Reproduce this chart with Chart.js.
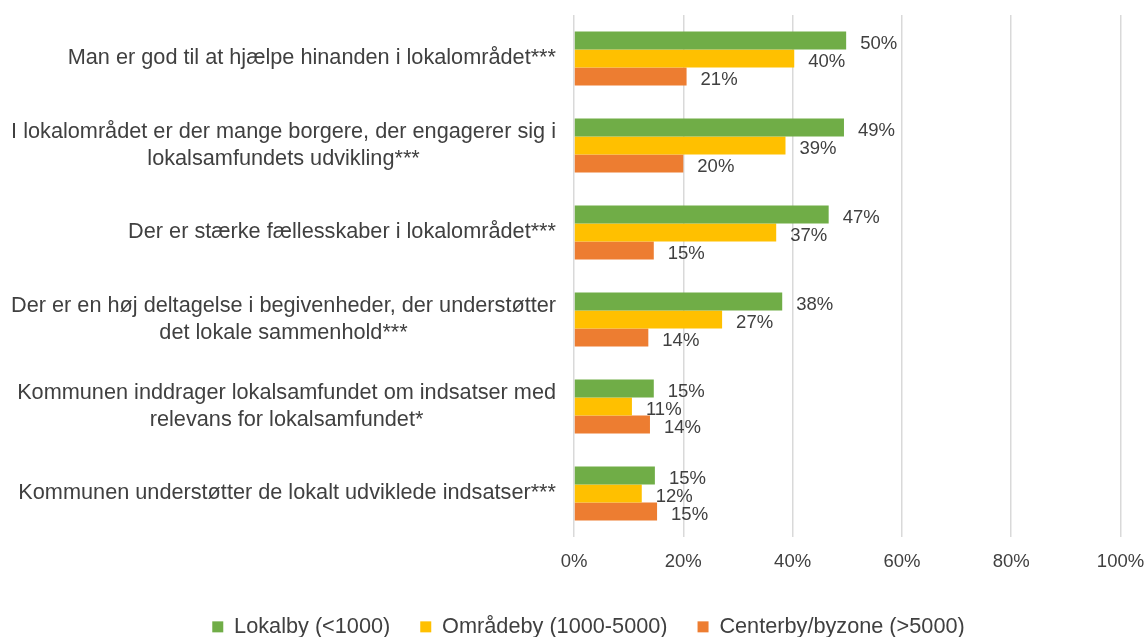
<!DOCTYPE html>
<html>
<head>
<meta charset="utf-8">
<script src="https://cdn.jsdelivr.net/npm/chart.js@4.4.1/dist/chart.umd.min.js"></script>
<style>
  html, body { margin: 0; padding: 0; background: #ffffff; }
  #wrap { width: 1146px; height: 637px; position: relative; }
</style>
</head>
<body>
<div id="wrap"><canvas id="c"></canvas></div>
<script>
const categories = [
  ["Man er god til at hjælpe hinanden i lokalområdet***"],
  ["I lokalområdet er der mange borgere, der engagerer sig i", "lokalsamfundets udvikling***"],
  ["Der er stærke fællesskaber i lokalområdet***"],
  ["Der er en høj deltagelse i begivenheder, der understøtter", "det lokale sammenhold***"],
  ["Kommunen inddrager lokalsamfundet om indsatser med", "relevans for lokalsamfundet*"],
  ["Kommunen understøtter de lokalt udviklede indsatser***"]
];
const seriesNames = ["Lokalby (<1000)", "Områdeby (1000-5000)", "Centerby/byzone (>5000)"];
const lokalby   = [49.8, 49.4, 46.6, 38.1, 14.6, 14.8];
const omraadeby = [40.3, 38.7, 37.0, 27.1, 10.6, 12.4];
const centerby  = [20.6, 20.0, 14.6, 13.6, 13.9, 15.2];
const xTicks = [0, 20, 40, 60, 80, 100];

const colors = ["#70AD47", "#FFC000", "#ED7D31"];
const textColor = "#404040";
const FONT = "'Liberation Sans', Arial, sans-serif";

const valueLabels = {
  id: 'valueLabels',
  afterDatasetsDraw(chart) {
    const ctx = chart.ctx;
    ctx.save();
    ctx.font = "18.5px " + FONT;
    ctx.fillStyle = textColor;
    ctx.textAlign = 'left';
    ctx.textBaseline = 'middle';
    chart.data.datasets.forEach((ds, di) => {
      const meta = chart.getDatasetMeta(di);
      meta.data.forEach((el, i) => {
        ctx.fillText(Math.round(ds.data[i]) + '%', el.x + 14, el.y + 3);
      });
    });
    ctx.restore();
  }
};

const categoryLabels = {
  id: 'categoryLabels',
  afterDraw(chart) {
    const ctx = chart.ctx;
    const y = chart.scales.y;
    const right = chart.chartArea.left - 18;
    const lh = 27;
    ctx.save();
    ctx.font = "21.7px " + FONT;
    ctx.fillStyle = textColor;
    ctx.textAlign = 'center';
    ctx.textBaseline = 'middle';
    chart.data.labels.forEach((lines, i) => {
      const py = y.getPixelForTick(i);
      let maxW = 0;
      lines.forEach(l => { maxW = Math.max(maxW, ctx.measureText(l).width); });
      const cx = right - maxW / 2;
      lines.forEach((l, j) => {
        ctx.fillText(l, cx, py + (j - (lines.length - 1) / 2) * lh);
      });
    });
    ctx.restore();
  }
};

new Chart(document.getElementById('c'), {
  type: 'bar',
  data: {
    labels: categories,
    datasets: [
      { label: seriesNames[0], data: lokalby, backgroundColor: colors[0], borderWidth: 0 },
      { label: seriesNames[1], data: omraadeby, backgroundColor: colors[1], borderWidth: 0 },
      { label: seriesNames[2], data: centerby, backgroundColor: colors[2], borderWidth: 0 }
    ]
  },
  options: {
    indexAxis: 'y',
    responsive: true,
    maintainAspectRatio: false,
    animation: false,
    datasets: { bar: { barPercentage: 1.0, categoryPercentage: 0.62 } },
    layout: { padding: { top: 15, right: 0, left: 31, bottom: 0 } },
    scales: {
      x: {
        min: 0, max: 100,
        afterBuildTicks(scale) { scale.ticks = xTicks.map(v => ({ value: v })); },
        ticks: {
          callback: v => v + '%',
          font: { family: FONT, size: 18.5 },
          color: textColor,
          padding: 14
        },
        grid: { color: '#D9D9D9', lineWidth: 1.5, drawTicks: false },
        border: { display: false },
        afterFit(scale) { scale.height = 49; scale.paddingRight = 25.5; scale.paddingLeft = 0; }
      },
      y: {
        grid: { display: false },
        border: { display: false },
        ticks: { display: false },
        afterFit(scale) { scale.width = 543; }
      }
    },
    plugins: {
      legend: {
        position: 'bottom',
        maxHeight: 51,
        labels: {
          boxWidth: 11, boxHeight: 11,
          font: { family: FONT, size: 21.7 },
          color: textColor,
          padding: 30
        }
      },
      tooltip: { enabled: false }
    }
  },
  plugins: [valueLabels, categoryLabels]
});
</script>
</body>
</html>
